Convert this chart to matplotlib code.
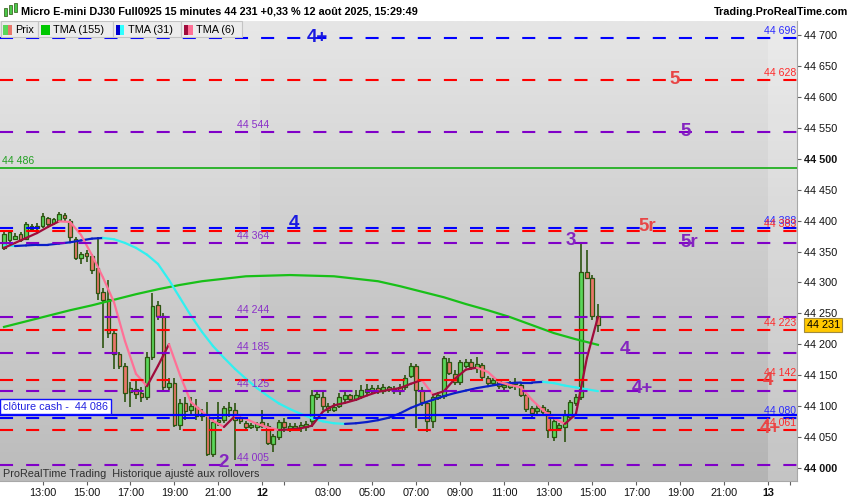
import numpy as np
import matplotlib.pyplot as plt
from matplotlib.patches import Rectangle
from matplotlib.colors import LinearSegmentedColormap
from matplotlib.transforms import blended_transform_factory

plt.rcParams['font.family'] = ['Liberation Sans', 'DejaVu Sans']
plt.rcParams['lines.scale_dashes'] = False

# --- bougies 15 minutes (11 août 11:15 -> 12 août 15:15) ---
opens = [44356, 44368, 44371, 44378, 44370, 44386, 44388, 44392, 44404, 44396,
         44401, 44410, 44400, 44371, 44340, 44347, 44343, 44323, 44285, 44273,
         44218, 44184, 44164, 44122, 44128, 44121, 44114, 44180, 44264, 44245,
         44130, 44137, 44069, 44104, 44093, 44099, 44083, 44083, 44022, 44074,
         44077, 44093, 44093, 44080, 44072, 44066, 44066, 44074, 44068, 44038,
         44049, 44074, 44063, 44064, 44066, 44066, 44075, 44115, 44115, 44100,
         44094, 44100, 44111, 44117, 44111, 44116, 44122, 44124, 44129, 44125,
         44130, 44124, 44130, 44130, 44148, 44164, 44126, 44105, 44075, 44113,
         44116, 44172, 44152, 44139, 44165, 44172, 44162, 44166, 44146, 44137,
         44140, 44130, 44131, 44139, 44134, 44117, 44096, 44092, 44098, 44092,
         44050, 44064, 44066, 44082, 44104, 44115, 44317, 44308, 44245]
highs = [44382, 44385, 44380, 44382, 44398, 44394, 44396, 44412, 44406, 44405,
         44414, 44413, 44402, 44374, 44349, 44352, 44346, 44374, 44291, 44304,
         44224, 44188, 44170, 44139, 44140, 44131, 44188, 44283, 44270, 44250,
         44145, 44146, 44112, 44115, 44115, 44112, 44095, 44107, 44080, 44107,
         44100, 44107, 44104, 44085, 44076, 44073, 44074, 44093, 44072, 44054,
         44078, 44080, 44072, 44072, 44074, 44075, 44126, 44124, 44122, 44104,
         44105, 44121, 44125, 44120, 44126, 44134, 44135, 44134, 44134, 44135,
         44133, 44132, 44135, 44150, 44170, 44168, 44130, 44108, 44117, 44122,
         44181, 44178, 44158, 44174, 44176, 44176, 44180, 44170, 44149, 44146,
         44143, 44138, 44141, 44145, 44138, 44120, 44100, 44102, 44102, 44095,
         44080, 44073, 44093, 44110, 44120, 44363, 44352, 44312, 44265]
lows = [44352, 44360, 44368, 44366, 44368, 44383, 44385, 44389, 44392, 44393,
        44399, 44400, 44365, 44337, 44330, 44333, 44314, 44272, 44194, 44210,
        44160, 44160, 44106, 44098, 44112, 44106, 44110, 44175, 44240, 44126,
        44126, 44066, 44061, 44077, 44084, 44078, 44075, 44019, 44017, 44068,
        44072, 44082, 44012, 44070, 44060, 44062, 44060, 44064, 44036, 44026,
        44045, 44058, 44058, 44060, 44058, 44060, 44066, 44110, 44093, 44088,
        44090, 44097, 44107, 44106, 44108, 44112, 44118, 44120, 44120, 44120,
        44122, 44120, 44118, 44126, 44145, 44064, 44100, 44058, 44064, 44110,
        44112, 44150, 44134, 44134, 44161, 44158, 44154, 44142, 44134, 44133,
        44128, 44126, 44128, 44126, 44114, 44090, 44082, 44086, 44086, 44048,
        44043, 44060, 44042, 44078, 44100, 44110, 44305, 44240, 44220]
closes = [44378, 44381, 44376, 44369, 44394, 44391, 44392, 44408, 44395, 44402,
          44411, 44404, 44373, 44340, 44346, 44343, 44320, 44283, 44272, 44218,
          44184, 44164, 44121, 44129, 44120, 44114, 44180, 44262, 44245, 44131,
          44137, 44069, 44104, 44092, 44100, 44083, 44087, 44023, 44074, 44077,
          44096, 44098, 44078, 44075, 44066, 44069, 44070, 44068, 44040, 44051,
          44074, 44066, 44068, 44068, 44069, 44070, 44117, 44119, 44100, 44093,
          44099, 44115, 44117, 44111, 44118, 44126, 44127, 44129, 44124, 44130,
          44127, 44128, 44124, 44146, 44165, 44126, 44107, 44075, 44114, 44118,
          44177, 44153, 44139, 44171, 44172, 44163, 44168, 44147, 44138, 44142,
          44132, 44134, 44137, 44135, 44118, 44095, 44088, 44097, 44091, 44061,
          44076, 44069, 44085, 44107, 44115, 44317, 44308, 44245, 44231]

# --- moyennes mobiles ---
tma155 = [44228, 44237, 44246, 44255, 44263, 44272, 44281, 44289, 44296, 44302,
          44306, 44310, 44311, 44312, 44311, 44310, 44306, 44302, 44294, 44285,
          44276, 44265, 44255, 44244, 44231, 44218, 44208, 44199]   # toutes les 4 bougies
tma31 = [44360, 44359, 44360, 44361, 44361, 44363, 44365, 44368, 44371, 44372,
         44370, 44364, 44356, 44345, 44330, 44304, 44275, 44246, 44220, 44197,
         44178, 44160, 44144, 44129, 44116, 44104, 44095, 44087, 44080, 44075,
         44072, 44071, 44072, 44074, 44077, 44081, 44088, 44097, 44104, 44110,
         44116, 44121, 44125, 44129, 44132, 44135, 44137, 44138, 44138, 44139,
         44137, 44133, 44130, 44127, 44124]                         # toutes les 2 bougies
tma6 = [44356, 44364, 44372, 44380, 44390, 44399, 44398, 44377, 44344, 44308,
        44268, 44205, 44152, 44132, 44165, 44200, 44150, 44106, 44091, 44076,
        44066, 44084, 44079, 44071, 44065, 44061, 44062, 44064, 44068, 44091,
        44101, 44105, 44110, 44117, 44123, 44126, 44129, 44136, 44142, 44118,
        44124, 44144, 44159, 44162, 44155, 44139, 44134, 44130, 44110, 44093,
        44080, 44071, 44087, 44178, 44244]                          # toutes les 2 bougies

# --- niveaux horizontaux ---
blue_levels = [44696, 44388, 44080]
red_levels = [44628, 44383, 44223, 44142, 44061]
purple_levels = [44544, 44364, 44244, 44185, 44125, 44005]
green_level = 44486
cash_close = 44086
last_price = 44231

# repères (texte, bougie, prix, couleur)
markers = [('4+', 57, 44696, 'blue'), ('5', 122, 44629, 'red'), ('5', 124, 44545, 'purple'),
           ('4', 52.7, 44395, 'blue'), ('5r', 117, 44390, 'red'), ('5r', 124.7, 44365, 'purple'),
           ('3', 103, 44368, 'purple'), ('4', 113, 44192, 'purple'), ('4+', 116, 44129, 'purple'),
           ('4', 139, 44142, 'red'), ('4+', 139.3, 44064, 'red'), ('2', 40, 44009, 'purple')]

tick_bars = [7, 15, 23, 31, 39, 47, 51, 59, 67, 75, 83, 91, 99, 107, 115, 123, 131, 139, 143]
tick_labels = ['13:00', '15:00', '17:00', '19:00', '21:00', '12', '', '03:00', '05:00',
               '07:00', '09:00', '11:00', '13:00', '15:00', '17:00', '19:00', '21:00', '13', '']

C_BLUE, C_RED, C_PURPLE = '#0000ff', '#ff0000', '#8000c8'
TXT = {'blue': '#1a1ae0', 'red': '#e84646', 'purple': '#8424c0'}

def fmt(v):
    return f"{v // 1000} {v % 1000:03d}"

fig = plt.figure(figsize=(8.5, 5.0), dpi=100, facecolor='white')
ax = fig.add_axes([0, 19 / 500, 797 / 850, 460 / 500])
x0, x1 = -0.73, 144.2
y0, y1 = 43978.5, 44723.4
ax.set_xlim(x0, x1)
ax.set_ylim(y0, y1)

# fond dégradé
cmap = LinearSegmentedColormap.from_list('bg', ['#e6e6e6', '#b4b4b4'])
ax.imshow(np.linspace(0, 1, 256).reshape(-1, 1), extent=[x0, x1, y0, y1], aspect='auto',
          cmap=cmap, origin='upper', zorder=0)
ax.axvspan(x0, 46.6, color='white', alpha=0.1, lw=0, zorder=0.5)
ax.axvspan(139, x1, color='white', alpha=0.22, lw=0, zorder=0.5)

# bougies
bars = np.arange(len(opens))
o, h, l, c = map(np.array, (opens, highs, lows, closes))
up = c >= o
body_col = np.where(up, '#5ad65a', '#e8766a')
ax.vlines(bars, l, h, color='#2c5410', lw=1.2, zorder=2)
ax.bar(bars, np.maximum(np.abs(c - o), 1.6), bottom=np.minimum(o, c), width=0.72,
       color=body_col, edgecolor='#2c5410', linewidth=0.9, zorder=2.5)

def plot_trend(xs, vs, col_up, col_down, lw=1.6):
    for k in range(len(xs) - 1):
        col = col_up if vs[k + 1] >= vs[k] else col_down
        ax.plot(xs[k:k + 2], vs[k:k + 2], color=col, lw=lw, solid_capstyle='round', zorder=3)

ax.plot(range(0, 109, 4), tma155, color='#18c018', lw=1.6, zorder=3)
plot_trend(range(0, 109, 2), tma31, '#0a1ec8', '#30f0f0')
plot_trend(range(0, 109, 2), tma6, '#a00c3c', '#ff7096')

# niveaux
dash = (0, (9.4, 9.4))
for v in purple_levels:
    ax.axhline(v, color=C_PURPLE, lw=1.5, ls=dash, zorder=4)
for v in red_levels:
    ax.axhline(v, color=C_RED, lw=1.5, ls=dash, zorder=4)
for v in blue_levels:
    ax.axhline(v, color=C_BLUE, lw=1.5, ls=dash, zorder=4.1)
ax.axhline(green_level, color='#22b022', lw=1.3, zorder=4)
ax.axhline(cash_close, color='#0000ff', lw=1.6, zorder=4.2)

# étiquettes des niveaux
for v in purple_levels:
    ax.text(42.4, v + 3, fmt(v), color='#8a30c8', fontsize=7.6, ha='left', va='bottom', zorder=5)
for v, col in [(44696, '#2a2aff'), (44628, '#ff2a2a'), (44388, '#2a2aff'), (44383, '#ff2a2a'),
               (44223, '#ff2a2a'), (44142, '#ff2a2a'), (44080, '#2a2aff'), (44061, '#ff2a2a')]:
    ax.text(144.0, v + 3, fmt(v), color=col, fontsize=7.6, ha='right', va='bottom', zorder=5)
ax.text(-0.4, green_level + 3, fmt(green_level), color='#22a022', fontsize=7.6,
        ha='left', va='bottom', zorder=5)
ax.text(-0.2, cash_close + 5, f"clôture cash -  {fmt(cash_close)}", color='#2020e0', fontsize=7.8,
        ha='left', va='bottom', zorder=6,
        bbox=dict(boxstyle='square,pad=0.25', facecolor='white', edgecolor='#1010ff', lw=1))

for txt, b, p, col in markers:
    ax.text(b, p, txt, color=TXT[col], fontsize=13.5, fontweight='bold',
            ha='center', va='center', zorder=6)

ax.text(0.004, 0.016, 'ProRealTime Trading  Historique ajusté aux rollovers', transform=ax.transAxes,
        fontsize=7.8, color='#303030', ha='left', va='center', zorder=6)

# axes
for s in ['top', 'left']:
    ax.spines[s].set_visible(False)
for s in ['right', 'bottom']:
    ax.spines[s].set_color('#a8a8a8')
ax.yaxis.tick_right()
yt = list(range(44000, 44701, 50))
ax.set_yticks(yt)
ax.set_yticklabels([fmt(v) for v in yt])
for lab, v in zip(ax.get_yticklabels(), yt):
    if v % 500 == 0:
        lab.set_fontweight('bold')
        lab.set_fontsize(9)
ax.tick_params(axis='y', labelsize=7.8, length=3, pad=2, color='#606060', labelcolor='#111111')
ax.set_xticks(tick_bars)
ax.set_xticklabels(tick_labels)
for lab in ax.get_xticklabels():
    if lab.get_text() in ('12', '13'):
        lab.set_fontweight('bold')
        lab.set_fontsize(9)
ax.tick_params(axis='x', labelsize=7.8, length=3, pad=2, color='#606060', labelcolor='#111111')

# prix courant
tr = blended_transform_factory(ax.transAxes, ax.transData)
ax.text(1.012, last_price, fmt(last_price), transform=tr, fontsize=7.8, ha='left', va='center',
        zorder=7, clip_on=False,
        bbox=dict(boxstyle='square,pad=0.2', facecolor='#ffc800', edgecolor='#a08a40', lw=0.8))

# en-tête
fig.text(21 / 850, 1 - 12 / 500,
         'Micro E-mini DJ30 Full0925 15 minutes 44 231 +0,33 % 12 août 2025, 15:29:49',
         fontsize=7.8, fontweight='bold', ha='left', va='center')
fig.text(848 / 850, 1 - 12 / 500, 'Trading.ProRealTime.com', fontsize=7.8, fontweight='bold',
         ha='right', va='center')
for xx, yb, hh in [(4, 8, 8), (9, 5, 9), (14, 3, 9)]:
    fig.add_artist(Rectangle((xx / 850, 1 - (yb + hh) / 500), 2.5 / 850, hh / 500,
                             transform=fig.transFigure, facecolor='#4ac84a', edgecolor='#2c5410', lw=0.5))

# légende
def px_rect(x, y, w, hgt, fc, ec='none', lw=0.0):
    fig.add_artist(Rectangle((x / 850, 1 - (y + hgt) / 500), w / 850, hgt / 500,
                             transform=fig.transFigure, facecolor=fc, edgecolor=ec, lw=lw, zorder=10))

legend = [(0.5, 37, ['#5ad65a', '#e8766a'], 'Prix'),
          (38, 75, ['#00c800', '#00c800'], 'TMA (155)'),
          (113, 68, ['#0000d0', '#30ffff'], 'TMA (31)'),
          (181, 61, ['#a00c3c', '#ff7096'], 'TMA (6)')]
for bx, bw, cols, name in legend:
    px_rect(bx, 21.5, bw, 15, '#ececec', '#c4c4c4', 0.8)
    px_rect(bx + 2.5, 25, 4.5, 10, cols[0])
    px_rect(bx + 7, 25, 4.5, 10, cols[1])
    fig.text((bx + 15) / 850, 1 - 30 / 500, name, fontsize=7.8, ha='left', va='center', zorder=11)

plt.savefig('out.png', dpi=100, facecolor='white')
plt.close()
